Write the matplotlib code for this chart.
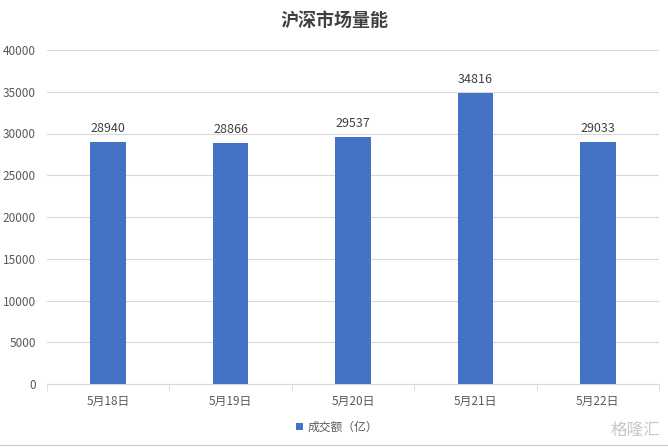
import matplotlib
matplotlib.use("Agg")
import matplotlib.pyplot as plt
from matplotlib.lines import Line2D
from matplotlib.patches import Patch
import numpy as np

plt.rcParams['font.family'] = ['Noto Sans CJK SC', 'DejaVu Sans']

categories = ["5月18日", "5月19日", "5月20日", "5月21日", "5月22日"]
values = [28940, 28866, 29537, 34816, 29033]
yticks = [0, 5000, 10000, 15000, 20000, 25000, 30000, 35000, 40000]
title = "沪深市场量能"
series_name = "成交额（亿）"

bar_color = "#4472C4"
text_color = "#595959"
grid_color = "#D9D9D9"

fig = plt.figure(figsize=(6.68, 4.47), dpi=100)
ax = fig.add_axes([47/668, 63/447, 612/668, 334/447])

x = np.arange(len(categories))
bars = ax.bar(x, values, width=0.29, color=bar_color, zorder=3)
for xi, v in zip(x, values):
    ax.annotate(f"{v}", (xi, v), xytext=(0, 5), textcoords="offset points",
                ha="center", va="bottom", fontsize=9, color="#404040")

ax.set_xlim(-0.5, len(categories) - 0.5)
ax.set_ylim(0, 40000)
ax.set_yticks(yticks)
ax.set_yticklabels([str(t) for t in yticks])
ax.set_xticks(x)
ax.set_xticklabels(categories)
ax.set_xticks(np.arange(-0.5, len(categories)), minor=True)
ax.tick_params(axis='x', which='major', length=0, pad=8, labelsize=8.5, labelcolor=text_color)
ax.tick_params(axis='x', which='minor', length=5, color=grid_color, direction='out')
ax.tick_params(axis='y', length=0, pad=8, labelsize=8.5, labelcolor=text_color)
ax.yaxis.grid(True, color=grid_color, linewidth=0.8, zorder=0)
for s in ['top', 'right', 'left']:
    ax.spines[s].set_visible(False)
ax.spines['bottom'].set_color(grid_color)
ax.spines['bottom'].set_linewidth(0.8)

fig.text(0.5, 1 - 20/447, title, ha="center", va="center", fontsize=13,
         fontweight="bold", color="#404040")

handle = Patch(facecolor=bar_color, edgecolor='none')
fig.legend([handle], [series_name], loc="center", bbox_to_anchor=(337/668, 1 - 427/447),
           frameon=False, fontsize=8.5, handlelength=0.6, handleheight=0.6,
           handletextpad=0.4, labelcolor=text_color)

fig.text(1 - 8/668, 1 - 430/447, "格隆汇", ha="right", va="center", fontsize=12,
         color="#C8C8C8")
fig.add_artist(Line2D([0, 1], [1 - 445/447, 1 - 445/447], color="#D0D0D0", linewidth=1,
                      transform=fig.transFigure))

fig.savefig("out.png", dpi=100)
